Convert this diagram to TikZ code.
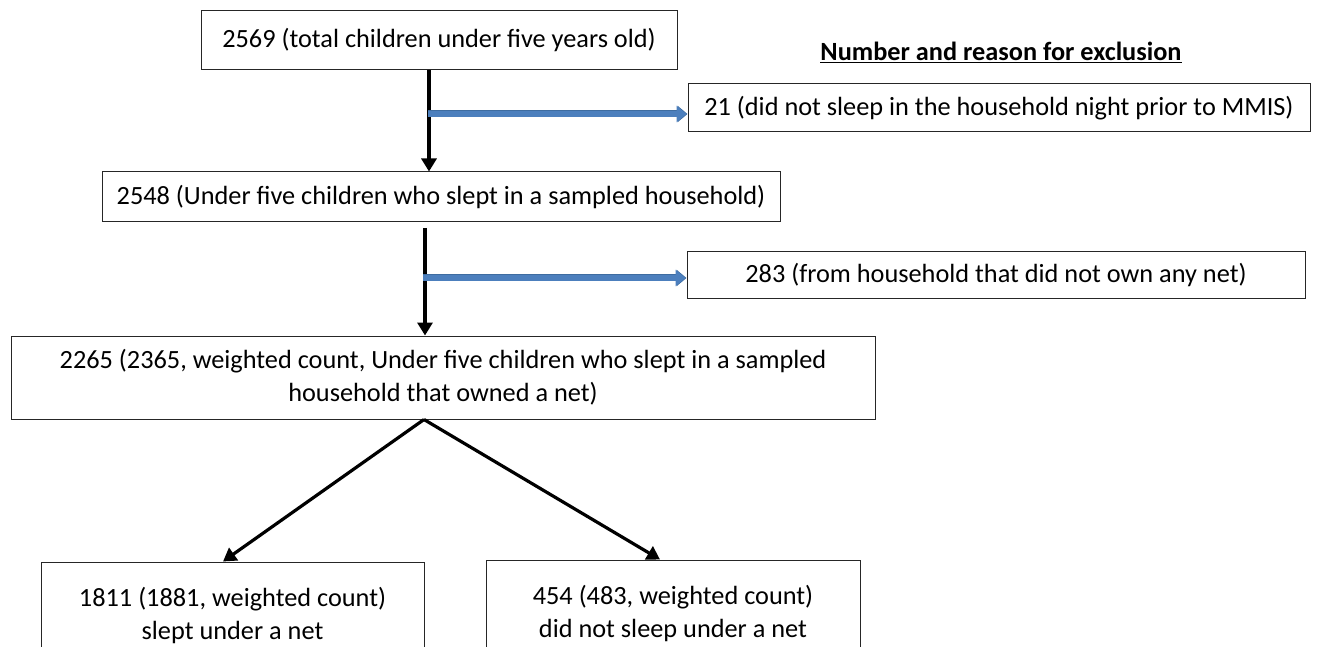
\documentclass[tikz,border=0pt]{standalone}
\usepackage{fontspec}
\setmainfont{Carlito}
\usepackage{xcolor}
\usepackage{tikz}
\usetikzlibrary{arrows.meta, positioning}
\definecolor{exblue}{RGB}{76,127,189}
\definecolor{exedge}{RGB}{62,108,160}

\begin{document}
\begin{tikzpicture}[x=1pt, y=-1pt,
				font=\fontsize{26.3}{33}\selectfont,
				box/.style={draw=black!85, line width=1pt, align=center, inner sep=0pt},
				arr/.style={-{Triangle[length=13pt,width=15pt]}, line width=3.2pt, black},
				bluearr/.style={-{Triangle[length=10pt,width=16pt]}, line width=6pt, exblue}]
				\useasboundingbox (0,0) rectangle (1318,647);
				\clip (0,0) rectangle (1318,647);
				\node at (439,40.5) (total) [box, minimum width=476pt, minimum height=59pt] {2569 (total children under five years old)};
				\node at (1001,52) (head) {\underline{\textbf{Number and reason for exclusion}}};
				\node at (999,108) (excl1) [box, minimum width=622pt, minimum height=48pt] {21 (did not sleep in the household night prior to MMIS)};
				\node at (441,197) (slept) [box, minimum width=678pt, minimum height=50pt] {2548 (Under five children who slept in a sampled household)};
				\node at (996,275.5) (excl2) [box, minimum width=618pt, minimum height=47pt] {283 (from household that did not own any net)};
				\node at (443,377.5) (owned) [box, minimum width=864pt, minimum height=83pt] {2265 (2365, weighted count, Under five children who slept in a sampled\\household that owned a net)};
				\node at (232.5,615) (undernet) [box, minimum width=383pt, minimum height=106pt] {1811 (1881, weighted count)\\slept under a net};
				\node at (673,613) (nonet) [box, minimum width=374pt, minimum height=106pt] {454 (483, weighted count)\\did not sleep under a net};
				\coordinate (split1) at (428,114);
				\coordinate (split2) at (423,278);
				\coordinate (top2) at (425,228);
				\draw[arr] (total.south -| 429,0) -- (slept.north -| 429,0);
				\draw[bluearr, exedge, line width=7pt] (split1) -- (excl1.west |- split1);
				\draw[bluearr] (split1) -- ([xshift=-1pt]excl1.west |- split1);
				\draw[arr] (top2) -- (owned.north -| top2);
				\draw[bluearr, exedge, line width=7pt] (split2) -- (excl2.west |- split2);
				\draw[bluearr] (split2) -- ([xshift=-1pt]excl2.west |- split2);
				\draw[arr] (owned.south -| 424,0) -- (undernet.north -| 223,0);
				\draw[arr] (owned.south -| 424,0) -- (nonet.north -| 660,0);
			\end{tikzpicture}
\end{document}
